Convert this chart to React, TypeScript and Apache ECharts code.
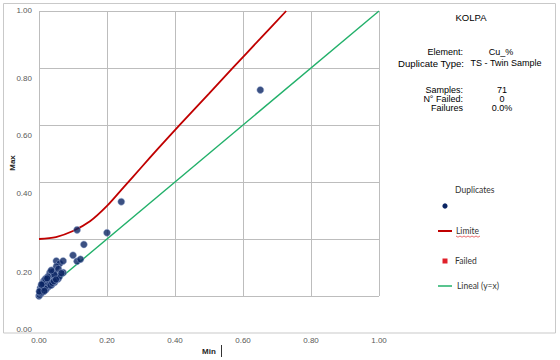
import React, { useEffect, useRef } from "react";
import * as echarts from "echarts";

// Duplicate pairs: Min (x) and Max (y)
const minValues = [
  0.651, 0.242, 0.112, 0.2, 0.132, 0.1, 0.112, 0.122, 0.051, 0.061,
  0.071, 0.051, 0.071, 0.032, 0.042, 0.036, 0.051, 0.014, 0.024, 0.014,
  0.029, 0.043, 0.004, 0.019, 0.009, 0.0, 0.031, 0.046, 0.056, 0.038,
  0.046, 0.025, 0.03, 0.02, 0.012, 0.005, 0.002, 0.01, 0.018, 0.022,
  0.035, 0.04, 0.027, 0.017, 0.008, 0.033, 0.041, 0.048, 0.053, 0.06,
  0.015, 0.026, 0.045, 0.036, 0.057, 0.066, 0.003, 0.006, 0.013, 0.021,
  0.028, 0.034, 0.039, 0.044, 0.05, 0.011, 0.019, 0.024, 0.001, 0.007,
  0.016,
];
const maxValues = [
  0.723, 0.331, 0.232, 0.222, 0.181, 0.143, 0.122, 0.129, 0.123, 0.114,
  0.123, 0.103, 0.082, 0.082, 0.085, 0.07, 0.07, 0.053, 0.053, 0.039,
  0.045, 0.056, 0.028, 0.033, 0.019, 0.0, 0.064, 0.062, 0.06, 0.04,
  0.048, 0.03, 0.035, 0.022, 0.015, 0.008, 0.004, 0.03, 0.042, 0.04,
  0.052, 0.06, 0.058, 0.025, 0.012, 0.042, 0.05, 0.056, 0.066, 0.068,
  0.048, 0.068, 0.076, 0.09, 0.095, 0.08, 0.012, 0.022, 0.028, 0.036,
  0.047, 0.038, 0.046, 0.052, 0.058, 0.044, 0.06, 0.062, 0.016, 0.04,
  0.018,
];

// Limit curve
const limitMin = [0, 0.05, 0.1, 0.15, 0.2, 0.25, 0.3, 0.35, 0.416, 0.5, 0.572, 0.65, 0.727];
const limitMax = [0.2, 0.207, 0.228, 0.262, 0.316, 0.383, 0.45, 0.517, 0.603, 0.71, 0.803, 0.902, 1.0];

// Lineal y = x
const linealMin = [0, 1];
const linealMax = [0, 1];

const yTickLabels = ["1.00", "0.80", "0.60", "0.40", "0.20", "0.00"];
const yTickY = [10, 78, 135, 193, 272, 329];

const infoLabels = ["Samples:", "N° Failed:", "Failures"];
const infoValues = ["71", "0", "0.0%"];

export default function App() {
  const ref = useRef<HTMLDivElement>(null);

  useEffect(() => {
    document.body.style.margin = "0";
    const chart = echarts.init(ref.current!, null, { renderer: "svg" });
    const font = "Liberation Sans, Arial, sans-serif";
    const legendFont = "Lato, Open Sans, sans-serif";

    const graphic: any[] = [
      {
        type: "rect",
        shape: { x: 3.5, y: 3.5, width: 552, height: 329.5 },
        style: { fill: "none", stroke: "#c9c9c9", lineWidth: 1 },
        z: 0,
      },
      ...yTickLabels.map((t, i) => ({
        type: "text",
        x: 32,
        y: yTickY[i],
        style: { text: t, fill: "#595959", font: `8px ${font}`, align: "right", verticalAlign: "middle" },
      })),
      {
        type: "text",
        x: 12,
        y: 163,
        rotation: Math.PI / 2,
        style: { text: "Max", fill: "#262626", font: `bold 8px ${font}`, align: "center", verticalAlign: "middle" },
      },
      {
        type: "text",
        x: 209,
        y: 351,
        style: { text: "Min", fill: "#262626", font: `bold 8px ${font}`, align: "center", verticalAlign: "middle" },
      },
      {
        type: "line",
        shape: { x1: 221.5, y1: 345, x2: 221.5, y2: 357 },
        style: { stroke: "#333", lineWidth: 1 },
      },
      // info box
      {
        type: "text",
        x: 471,
        y: 17,
        style: { text: "KOLPA", fill: "#000", font: `9.5px ${font}`, align: "center", verticalAlign: "middle" },
      },
      {
        type: "text",
        x: 463,
        y: 52,
        style: { text: "Element:", fill: "#000", font: `9px ${font}`, align: "right", verticalAlign: "middle" },
      },
      {
        type: "text",
        x: 501,
        y: 52,
        style: { text: "Cu_%", fill: "#000", font: `9px ${font}`, align: "center", verticalAlign: "middle" },
      },
      {
        type: "text",
        x: 464,
        y: 63,
        style: { text: "Duplicate Type:", fill: "#000", font: `9.6px ${font}`, align: "right", verticalAlign: "middle" },
      },
      {
        type: "text",
        x: 506,
        y: 63,
        style: { text: "TS - Twin Sample", fill: "#000", font: `9px ${font}`, align: "center", verticalAlign: "middle" },
      },
      ...infoLabels.map((t, i) => ({
        type: "text",
        x: 463,
        y: 90 + i * 9,
        style: { text: t, fill: "#000", font: `9px ${font}`, align: "right", verticalAlign: "middle" },
      })),
      ...infoValues.map((t, i) => ({
        type: "text",
        x: 502,
        y: 90 + i * 9,
        style: { text: t, fill: "#000", font: `9px ${font}`, align: "center", verticalAlign: "middle" },
      })),
      // legend
      {
        type: "text",
        x: 455,
        y: 190,
        style: { text: "Duplicates", fill: "#333", font: `8.5px ${legendFont}`, align: "left", verticalAlign: "middle" },
      },
      {
        type: "circle",
        shape: { cx: 445, cy: 206, r: 2.6 },
        style: { fill: "#0a2463" },
      },
      {
        type: "line",
        shape: { x1: 438, y1: 231, x2: 452, y2: 231 },
        style: { stroke: "#c00000", lineWidth: 2 },
      },
      {
        type: "text",
        x: 456,
        y: 231,
        style: { text: "Limite", fill: "#333", font: `8.5px ${legendFont}`, align: "left", verticalAlign: "middle" },
      },
      {
        type: "polyline",
        shape: {
          points: [
            [456, 236], [458, 237.2], [460, 236], [462, 237.2], [464, 236], [466, 237.2],
            [468, 236], [470, 237.2], [472, 236], [474, 237.2], [476, 236], [478, 237.2], [480, 236],
          ],
        },
        style: { stroke: "#e03030", lineWidth: 0.7, fill: "none" },
      },
      {
        type: "rect",
        shape: { x: 442.5, y: 258.5, width: 5, height: 5 },
        style: { fill: "#e0202a" },
      },
      {
        type: "text",
        x: 455,
        y: 261,
        style: { text: "Failed", fill: "#333", font: `8.5px ${legendFont}`, align: "left", verticalAlign: "middle" },
      },
      {
        type: "line",
        shape: { x1: 438, y1: 286, x2: 452, y2: 286 },
        style: { stroke: "#22b06a", lineWidth: 1.5 },
      },
      {
        type: "text",
        x: 457,
        y: 286,
        style: { text: "Lineal (y=x)", fill: "#333", font: `8.5px ${legendFont}`, align: "left", verticalAlign: "middle" },
      },
    ];

    chart.setOption({
      animation: false,
      backgroundColor: "#fff",
      grid: { left: 39, top: 11, right: 181, bottom: 64 },
      xAxis: {
        type: "value",
        min: 0,
        max: 1,
        interval: 0.2,
        axisLine: { show: false },
        axisTick: { show: false },
        axisLabel: {
          margin: 40,
          color: "#595959",
          fontSize: 8,
          fontFamily: font,
          formatter: (v: number) => v.toFixed(2),
        },
        splitLine: { show: true, lineStyle: { color: "#bdbdbd", width: 1 } },
      },
      yAxis: {
        type: "value",
        min: 0,
        max: 1,
        interval: 0.2,
        axisLine: { show: false },
        axisTick: { show: false },
        axisLabel: { show: false },
        splitLine: { show: true, lineStyle: { color: "#bdbdbd", width: 1 } },
      },
      series: [
        {
          name: "Limite",
          type: "line",
          data: limitMin.map((x, i) => [x, limitMax[i]]),
          smooth: 0.3,
          showSymbol: false,
          symbol: "none",
          lineStyle: { color: "#c00000", width: 1.8 },
          z: 2,
        },
        {
          name: "Lineal (y=x)",
          type: "line",
          data: linealMin.map((x, i) => [x, linealMax[i]]),
          showSymbol: false,
          symbol: "none",
          lineStyle: { color: "#22b06a", width: 1.4 },
          z: 2,
        },
        {
          name: "Duplicates",
          type: "scatter",
          data: minValues.map((x, i) => [x, maxValues[i]]),
          symbolSize: 7,
          itemStyle: { color: "#0a2463", borderColor: "#9fb2d6", borderWidth: 0.6 },
          z: 3,
        },
        {
          name: "Failed",
          type: "scatter",
          data: [],
          itemStyle: { color: "#e0202a" },
        },
      ],
      graphic,
    });
    return () => chart.dispose();
  }, []);

  return (
    <div
      ref={ref}
      style={{ position: "absolute", left: 0, top: 0, width: 560, height: 360, background: "#fff" }}
    />
  );
}
